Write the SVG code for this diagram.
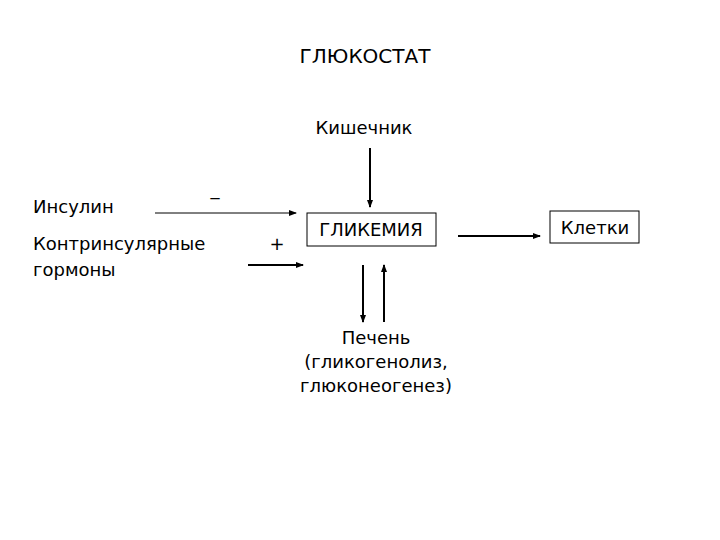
<svg xmlns="http://www.w3.org/2000/svg" width="720" height="540" viewBox="0 0 720 540">
<defs>
<marker id="ah" markerWidth="8" markerHeight="6" refX="7" refY="3" orient="auto" markerUnits="userSpaceOnUse"><path d="M0,0 L8,3 L0,6 z" fill="#000"/></marker>
<style>text{font-family:"DejaVu Sans",Verdana,sans-serif;font-size:18px;fill:#000}.b{fill:#fff;stroke:#000;stroke-width:1}.c{stroke:#000;fill:none}</style>
</defs>
<rect width="720" height="540" fill="#fff"/>
<g id="title"><text x="365" y="63" text-anchor="middle" font-size="20" style="font-size:20px">ГЛЮКОСТАТ</text></g>
<g id="kishechnik"><text x="364" y="134" text-anchor="middle">Кишечник</text></g>
<g id="insulin"><text x="33" y="213">Инсулин</text></g>
<g id="contr"><text x="33" y="250">Контринсулярные</text><text x="33" y="276">гормоны</text></g>
<g id="minus"><text x="215" y="195" text-anchor="middle">_</text></g>
<g id="plus"><text x="277" y="250" text-anchor="middle">+</text></g>
<g id="glik"><rect class="b" x="307" y="213" width="129" height="33"/><text x="371" y="236" text-anchor="middle">ГЛИКЕМИЯ</text></g>
<g id="kletki"><rect class="b" x="550" y="211" width="89" height="32"/><text x="595" y="234" text-anchor="middle">Клетки</text></g>
<g id="pechen"><text x="376" y="344" text-anchor="middle">Печень</text><text x="376" y="368" text-anchor="middle">(гликогенолиз,</text><text x="376" y="392" text-anchor="middle">глюконеогенез)</text></g>
<g id="connectors">
<line class="c" x1="155" y1="213" x2="296" y2="213" marker-end="url(#ah)"/>
<line class="c" x1="248" y1="265" x2="303" y2="265" stroke-width="2" marker-end="url(#ah)"/>
<line class="c" x1="458" y1="236" x2="540" y2="236" stroke-width="2" marker-end="url(#ah)"/>
<line class="c" x1="370" y1="148" x2="370" y2="207" stroke-width="2" marker-end="url(#ah)"/>
<line class="c" x1="363" y1="265" x2="363" y2="322" stroke-width="2" marker-end="url(#ah)"/>
<line class="c" x1="384" y1="322" x2="384" y2="265" stroke-width="2" marker-end="url(#ah)"/>
</g>
</svg>
